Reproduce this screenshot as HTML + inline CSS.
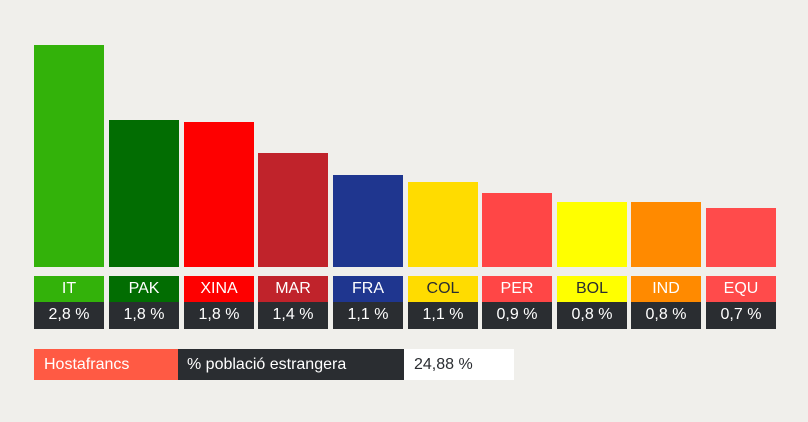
<!DOCTYPE html><html><head><meta charset="utf-8"><style>
body{margin:0;width:808px;height:422px;background:#f0efeb;font-family:"Liberation Sans",sans-serif;position:relative;overflow:hidden}
div{position:absolute}
.b{width:70px}
.l{width:70px;top:276px;height:26px;line-height:26px;text-align:center;font-size:16px;color:#fff}
.v{width:70px;top:302px;height:27px;line-height:25px;text-align:center;font-size:16px;color:#fff;background:#2a2d31}
</style></head><body>
<div class="b" style="left:34px;top:45px;height:222px;background:#33b20a"></div>
<div class="b" style="left:109px;top:120px;height:147px;background:#026d02"></div>
<div class="b" style="left:184px;top:122px;height:145px;background:#fe0000"></div>
<div class="b" style="left:258px;top:153px;height:114px;background:#c0232b"></div>
<div class="b" style="left:333px;top:175px;height:92px;background:#1f368f"></div>
<div class="b" style="left:408px;top:182px;height:85px;background:#ffdc00"></div>
<div class="b" style="left:482px;top:193px;height:74px;background:#ff4646"></div>
<div class="b" style="left:557px;top:202px;height:65px;background:#ffff00"></div>
<div class="b" style="left:631px;top:202px;height:65px;background:#ff8a00"></div>
<div class="b" style="left:706px;top:208px;height:59px;background:#ff4b4b"></div>

<div class="l" style="left:34px;background:#33b20a">IT</div>
<div class="l" style="left:109px;background:#026d02">PAK</div>
<div class="l" style="left:184px;background:#fe0000">XINA</div>
<div class="l" style="left:258px;background:#c0232b">MAR</div>
<div class="l" style="left:333px;background:#1f368f">FRA</div>
<div class="l" style="left:408px;background:#ffdc00;color:#2a2d31">COL</div>
<div class="l" style="left:482px;background:#ff4646">PER</div>
<div class="l" style="left:557px;background:#ffff00;color:#2a2d31">BOL</div>
<div class="l" style="left:631px;background:#ff8a00">IND</div>
<div class="l" style="left:706px;background:#ff4b4b">EQU</div>

<div class="v" style="left:34px">2,8 %</div>
<div class="v" style="left:109px">1,8 %</div>
<div class="v" style="left:184px">1,8 %</div>
<div class="v" style="left:258px">1,4 %</div>
<div class="v" style="left:333px">1,1 %</div>
<div class="v" style="left:408px">1,1 %</div>
<div class="v" style="left:482px">0,9 %</div>
<div class="v" style="left:557px">0,8 %</div>
<div class="v" style="left:631px">0,8 %</div>
<div class="v" style="left:706px">0,7 %</div>

<div style="left:34px;top:349px;width:144px;height:31px;line-height:31px;background:#ff5a44;color:#fff;font-size:16px;padding-left:10px;box-sizing:border-box">Hostafrancs</div>
<div style="left:178px;top:349px;width:226px;height:31px;line-height:31px;background:#2a2d31;color:#fff;font-size:16px;padding-left:9px;box-sizing:border-box">% població estrangera</div>
<div style="left:404px;top:349px;width:110px;height:31px;line-height:31px;background:#fff;color:#2a2d31;font-size:16px;padding-left:10px;box-sizing:border-box">24,88 %</div>
</body></html>
